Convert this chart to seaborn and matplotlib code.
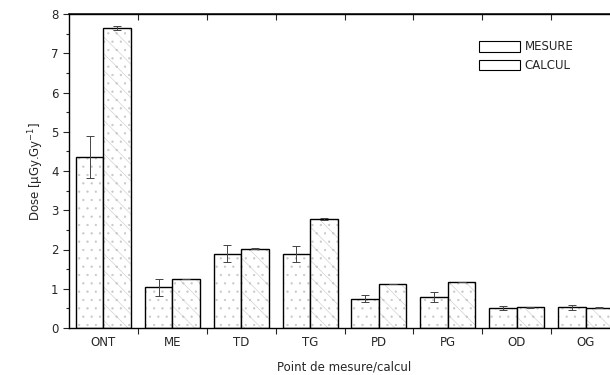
import matplotlib
matplotlib.use("Agg")
import matplotlib.pyplot as plt
import matplotlib.colors as mcolors
import seaborn as sns
import numpy as np
import pandas as pd
from matplotlib.ticker import MultipleLocator, FixedLocator, NullFormatter

sns.set_theme(style="ticks")
plt.rcParams["font.family"] = ["DejaVu Sans"]
plt.rcParams["hatch.linewidth"] = 0.4

points = ["ONT", "ME", "TD", "TG", "PD", "PG", "OD", "OG"]
mesure = [4.35, 1.04, 1.89, 1.89, 0.75, 0.79, 0.51, 0.53]
mesure_err = [0.54, 0.22, 0.22, 0.20, 0.09, 0.12, 0.04, 0.06]
calcul = [7.64, 1.25, 2.02, 2.77, 1.12, 1.17, 0.53, 0.52]
calcul_err = [0.06, 0.01, 0.01, 0.02, 0.01, 0.01, 0.01, 0.01]

df = pd.DataFrame({
    "point": points * 2,
    "dose": mesure + calcul,
    "err": mesure_err + calcul_err,
    "serie": ["MESURE"] * len(points) + ["CALCUL"] * len(points),
})

fig = plt.figure(figsize=(6.1, 3.75), dpi=100)
ax = fig.add_axes([69 / 610, 1 - 328 / 375, (620 - 69) / 610, (328 - 14) / 375])

sns.barplot(data=df, x="point", y="dose", hue="serie", order=points,
            hue_order=["MESURE", "CALCUL"], errorbar=None, width=0.8,
            palette=["white", "white"], edgecolor="black", linewidth=1.0,
            ax=ax)

# faint scanned-looking fill patterns
hatches = {"MESURE": "..", "CALCUL": "\\\\.."}
hcol = "#c8c8c8"
for cont, name in zip(ax.containers, ["MESURE", "CALCUL"]):
    sub = df[df["serie"] == name]
    xs = [p.get_x() + p.get_width() / 2 for p in cont.patches]
    for p in cont.patches:
        p.set_hatch(hatches[name])
        if hasattr(p, "set_hatchcolor"):
            p.set_hatchcolor(hcol)
        else:
            p._hatch_color = mcolors.to_rgba(hcol)
    ax.errorbar(xs, sub["dose"], yerr=sub["err"], fmt="none", ecolor="#444444",
                elinewidth=0.7, capsize=3, capthick=0.7)

ax.set_xlim(-0.5, 7.5)
ax.set_ylim(0, 8)
ax.yaxis.set_major_locator(MultipleLocator(1))
ax.yaxis.set_minor_locator(MultipleLocator(0.5))
ax.xaxis.set_minor_locator(FixedLocator(np.arange(0.5, 7.5, 1)))
ax.tick_params(axis="x", which="major", length=0, labelsize=8.5, pad=6)
ax.tick_params(axis="x", which="minor", length=4, width=0.8, direction="out")
ax.tick_params(axis="y", which="major", length=4, width=0.8, labelsize=8.5)
ax.tick_params(axis="y", which="minor", length=2.5, width=0.8)
for s in ["left", "bottom", "top"]:
    ax.spines[s].set_linewidth(1.0)
    ax.spines[s].set_color("black")
ax.spines["right"].set_visible(False)

top = ax.secondary_xaxis("top")
top.set_xticks(np.arange(0.5, 7.5, 1))
top.xaxis.set_major_formatter(NullFormatter())
top.tick_params(direction="in", length=4, width=0.8)

ax.set_xlabel("Point de mesure/calcul", fontsize=8.5, labelpad=8)
ax.set_ylabel("Dose [µGy.Gy$^{-1}$]", fontsize=8.5)

leg = ax.legend(loc="upper right", bbox_to_anchor=(0.935, 0.95), frameon=False,
                fontsize=8.5, handlelength=3.5, handleheight=1.0,
                labelspacing=0.5, handletextpad=0.4)
for h in leg.legend_handles:
    h.set_hatch(None)
    h.set_linewidth(0.8)

fig.savefig("out.png", dpi=100)
